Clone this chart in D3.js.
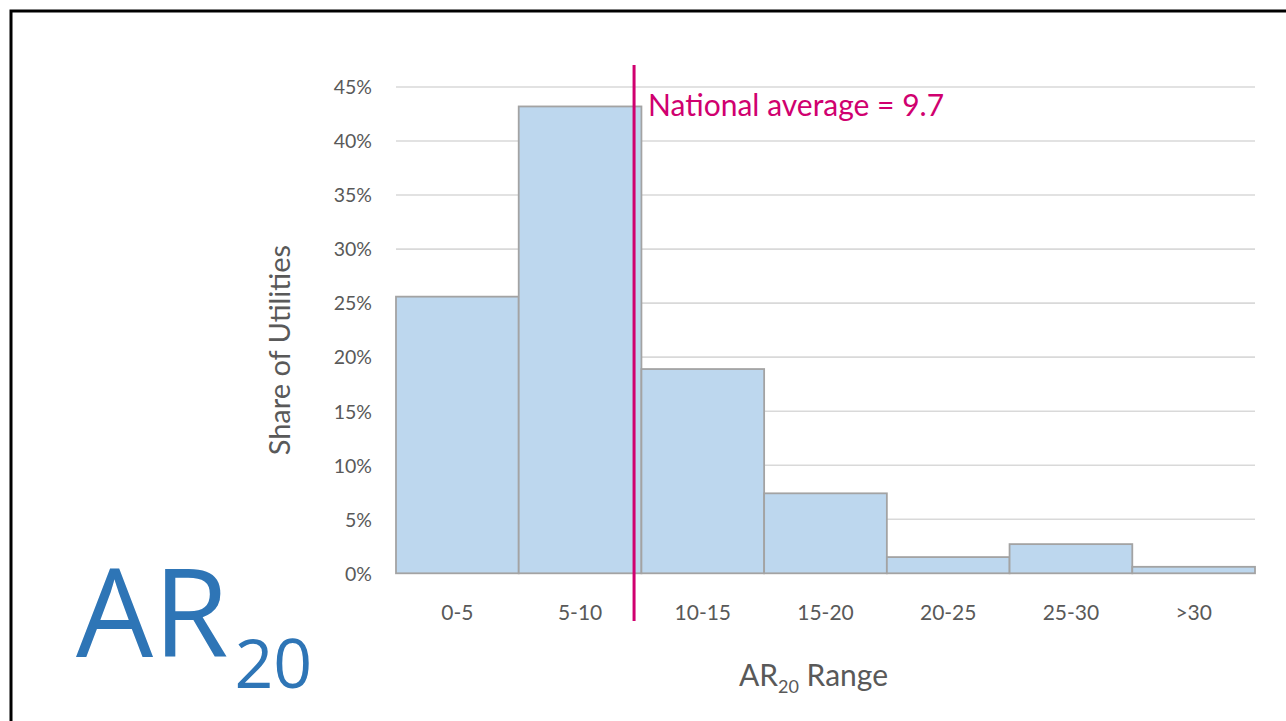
<!DOCTYPE html>
<html>
<head>
<meta charset="utf-8">
<script src="https://cdn.jsdelivr.net/npm/d3@7"></script>
<style>
  html, body { margin: 0; padding: 0; background: #fff; }
  svg { display: block; }
</style>
</head>
<body>
<svg id="chart" width="1286" height="721"></svg>
<script>
// AR20 ranges (bins) and share of utilities in each, in percent
const categories = ["0-5", "5-10", "10-15", "15-20", "20-25", "25-30", ">30"];
const shares = [25.6, 43.2, 18.9, 7.4, 1.5, 2.7, 0.6];
const yTicks = [0, 5, 10, 15, 20, 25, 30, 35, 40, 45];
const binEdges = [0, 35];
const nationalAverage = 9.7;

const svg = d3.select("#chart");
const W = 1286, H = 721;

// frame around the slide
svg.append("path")
  .attr("d", `M11,${H + 5} L11,11 L${W + 5},11`)
  .attr("fill", "none")
  .attr("stroke", "#000")
  .attr("stroke-width", 3);

const plot = { left: 396, right: 1255, top: 87, bottom: 573.3 };

const x = d3.scaleBand().domain(categories).range([plot.left, plot.right]).padding(0);
const xVal = d3.scaleLinear().domain(binEdges).range([plot.left, plot.right]);
const y = d3.scaleLinear().domain([0, 45]).range([plot.bottom, plot.top]);

// horizontal gridlines
svg.append("g")
  .selectAll("line")
  .data(yTicks)
  .join("line")
  .attr("x1", plot.left)
  .attr("x2", plot.right)
  .attr("y1", d => y(d))
  .attr("y2", d => y(d))
  .attr("stroke", "#d9d9d9")
  .attr("stroke-width", 1.6);

// y axis labels
const yAxis = d3.axisLeft(y).tickValues(yTicks).tickFormat(d => d + "%").tickSize(0).tickPadding(0);
const gy = svg.append("g").attr("transform", `translate(372,0)`).call(yAxis);
gy.select(".domain").remove();
gy.selectAll("text")
  .attr("fill", "#595959")
  .attr("font-family", "Lato, 'Open Sans', sans-serif")
  .attr("font-size", 19.5)
  .attr("dy", "0.35em");

// histogram bars
svg.append("g")
  .selectAll("rect")
  .data(categories.map((c, i) => ({ c, v: shares[i] })))
  .join("rect")
  .attr("x", d => x(d.c))
  .attr("y", d => y(d.v))
  .attr("width", x.bandwidth())
  .attr("height", d => y(0) - y(d.v))
  .attr("fill", "#bdd7ee")
  .attr("stroke", "#a3a3a3")
  .attr("stroke-width", 1.8);

// x axis labels
const xAxis = d3.axisBottom(x).tickSize(0).tickPadding(0);
const gx = svg.append("g").attr("transform", `translate(0,613)`).call(xAxis);
gx.select(".domain").remove();
gx.selectAll("text")
  .attr("fill", "#595959")
  .attr("font-family", "Lato, 'Open Sans', sans-serif")
  .attr("font-size", 21)
  .attr("dy", "0.35em");

// national average marker
const avgX = xVal(nationalAverage);
svg.append("line")
  .attr("x1", avgX).attr("x2", avgX)
  .attr("y1", 65).attr("y2", 621)
  .attr("stroke", "#d0006f")
  .attr("stroke-width", 3);

svg.append("text")
  .attr("x", avgX + 14)
  .attr("y", 116)
  .attr("fill", "#d0006f")
  .attr("font-family", "Lato, 'Open Sans', sans-serif")
  .attr("font-size", 30)
  .text(`National average = ${nationalAverage}`);

// axis titles
svg.append("text")
  .attr("transform", `translate(290,${(plot.top + plot.bottom) / 2 + 20}) rotate(-90)`)
  .attr("text-anchor", "middle")
  .attr("fill", "#595959")
  .attr("font-family", "Lato, 'Open Sans', sans-serif")
  .attr("font-size", 29)
  .text("Share of Utilities");

const xt = svg.append("text")
  .attr("x", (plot.left + plot.right) / 2 - 12)
  .attr("y", 686)
  .attr("text-anchor", "middle")
  .attr("fill", "#595959")
  .attr("font-family", "Lato, 'Open Sans', sans-serif")
  .attr("font-size", 30);
xt.append("tspan").text("AR");
xt.append("tspan").attr("font-size", 18).attr("dy", 7).text("20");
xt.append("tspan").attr("dy", -7).text(" Range");

// large AR20 label
const big = svg.append("text")
  .attr("x", 76)
  .attr("y", 657)
  .attr("fill", "#2e75b6")
  .attr("font-family", "'Open Sans', Lato, sans-serif")
  .attr("font-size", 122);
big.append("tspan").text("AR");
big.append("tspan").attr("font-size", 68).attr("dy", 31).attr("dx", 6).text("20");
</script>
</body>
</html>
